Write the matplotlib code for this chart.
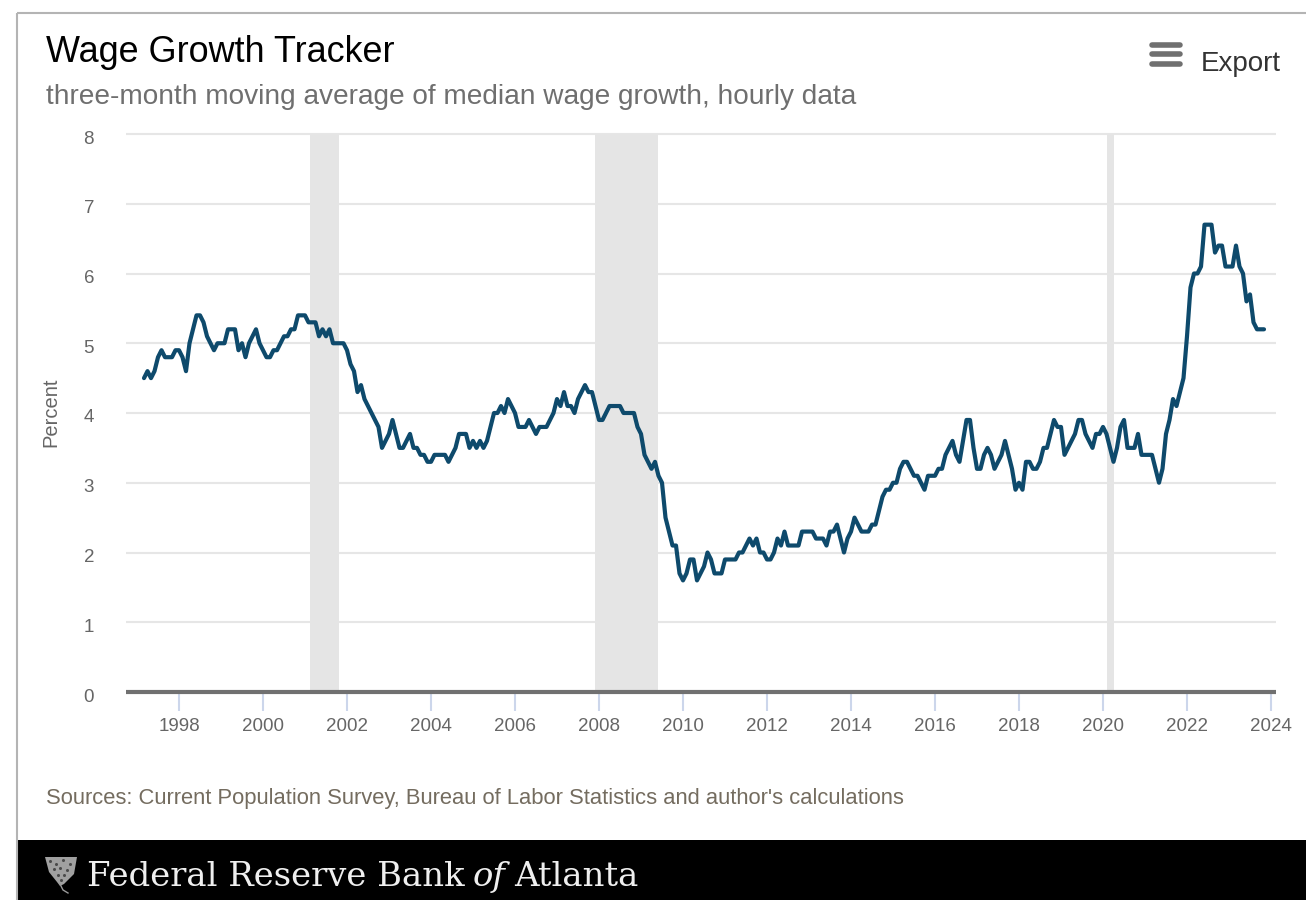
"""
Wage growth tracker line chart with recession bands and a page-style header and footer.
"""

import numpy as np
import matplotlib
matplotlib.use("Agg")
import matplotlib.pyplot as plt
from matplotlib.patches import Polygon, Rectangle
from matplotlib.transforms import ScaledTranslation

plt.rcParams["font.family"] = ["Liberation Sans", "DejaVu Sans"]

W, H = 1306, 900

# monthly, first value is March 1997
WAGE_GROWTH = [
    4.5, 4.6, 4.5, 4.6, 4.8, 4.9, 4.8, 4.8, 4.8, 4.9,
    4.9, 4.8, 4.6, 5.0, 5.2, 5.4, 5.4, 5.3, 5.1, 5.0, 4.9, 5.0,
    5.0, 5.0, 5.2, 5.2, 5.2, 4.9, 5.0, 4.8, 5.0, 5.1, 5.2, 5.0,
    4.9, 4.8, 4.8, 4.9, 4.9, 5.0, 5.1, 5.1, 5.2, 5.2, 5.4, 5.4,
    5.4, 5.3, 5.3, 5.3, 5.1, 5.2, 5.1, 5.2, 5.0, 5.0, 5.0, 5.0,
    4.9, 4.7, 4.6, 4.3, 4.4, 4.2, 4.1, 4.0, 3.9, 3.8, 3.5, 3.6,
    3.7, 3.9, 3.7, 3.5, 3.5, 3.6, 3.7, 3.5, 3.5, 3.4, 3.4, 3.3,
    3.3, 3.4, 3.4, 3.4, 3.4, 3.3, 3.4, 3.5, 3.7, 3.7, 3.7, 3.5,
    3.6, 3.5, 3.6, 3.5, 3.6, 3.8, 4.0, 4.0, 4.1, 4.0, 4.2, 4.1,
    4.0, 3.8, 3.8, 3.8, 3.9, 3.8, 3.7, 3.8, 3.8, 3.8, 3.9, 4.0,
    4.2, 4.1, 4.3, 4.1, 4.1, 4.0, 4.2, 4.3, 4.4, 4.3, 4.3, 4.1,
    3.9, 3.9, 4.0, 4.1, 4.1, 4.1, 4.1, 4.0, 4.0, 4.0, 4.0, 3.8,
    3.7, 3.4, 3.3, 3.2, 3.3, 3.1, 3.0, 2.5, 2.3, 2.1, 2.1, 1.7,
    1.6, 1.7, 1.9, 1.9, 1.6, 1.7, 1.8, 2.0, 1.9, 1.7, 1.7, 1.7,
    1.9, 1.9, 1.9, 1.9, 2.0, 2.0, 2.1, 2.2, 2.1, 2.2, 2.0, 2.0,
    1.9, 1.9, 2.0, 2.2, 2.1, 2.3, 2.1, 2.1, 2.1, 2.1, 2.3, 2.3,
    2.3, 2.3, 2.2, 2.2, 2.2, 2.1, 2.3, 2.3, 2.4, 2.2, 2.0, 2.2,
    2.3, 2.5, 2.4, 2.3, 2.3, 2.3, 2.4, 2.4, 2.6, 2.8, 2.9, 2.9,
    3.0, 3.0, 3.2, 3.3, 3.3, 3.2, 3.1, 3.1, 3.0, 2.9, 3.1, 3.1,
    3.1, 3.2, 3.2, 3.4, 3.5, 3.6, 3.4, 3.3, 3.6, 3.9, 3.9, 3.5,
    3.2, 3.2, 3.4, 3.5, 3.4, 3.2, 3.3, 3.4, 3.6, 3.4, 3.2, 2.9,
    3.0, 2.9, 3.3, 3.3, 3.2, 3.2, 3.3, 3.5, 3.5, 3.7, 3.9, 3.8,
    3.8, 3.4, 3.5, 3.6, 3.7, 3.9, 3.9, 3.7, 3.6, 3.5, 3.7, 3.7,
    3.8, 3.7, 3.5, 3.3, 3.5, 3.8, 3.9, 3.5, 3.5, 3.5, 3.7, 3.4,
    3.4, 3.4, 3.4, 3.2, 3.0, 3.2, 3.7, 3.9, 4.2, 4.1, 4.3, 4.5,
    5.1, 5.8, 6.0, 6.0, 6.1, 6.7, 6.7, 6.7, 6.3, 6.4, 6.4, 6.1,
    6.1, 6.1, 6.4, 6.1, 6.0, 5.6, 5.7, 5.3, 5.2, 5.2, 5.2,
]
RECESSIONS = [(2001.12, 2001.81), (2007.90, 2009.40), (2020.10, 2020.27)]
X_TICKS = list(range(1998, 2025, 2))
Y_TICKS = list(range(0, 9))

years = 1997 + (2 + np.arange(len(WAGE_GROWTH))) / 12

fig = plt.figure(figsize=(W / 100, H / 100), dpi=100, facecolor="white")

# page layer in pixel coordinates, y pointing down
page = fig.add_axes([0, 0, 1, 1], zorder=0)
page.set_xlim(0, W)
page.set_ylim(H, 0)
page.axis("off")

# chart area: x 126-1276, y 134-692 px
ax = fig.add_axes([126 / W, 1 - 692 / H, 1150 / W, 558 / H], zorder=1)
ax.patch.set_alpha(0)
ax.set_xlim(1998 - 53 / 42, 1998 + 1097 / 42)
ax.set_ylim(0, 8)

for start, end in RECESSIONS:
    ax.axvspan(start, end, color="#e5e5e5", lw=0, zorder=2)

ax.plot(years, WAGE_GROWTH, color="#0e4a6c", lw=3.0, zorder=3,
        solid_joinstyle="round", solid_capstyle="round")

ax.set_yticks(Y_TICKS)
ax.set_xticks(X_TICKS)
ax.grid(axis="y", color="#e6e6e6", lw=1.5, zorder=1, clip_on=False,
        solid_capstyle="butt")
ax.set_axisbelow(True)
for side in ["top", "right", "left"]:
    ax.spines[side].set_visible(False)
ax.spines["bottom"].set_color("#707070")
ax.spines["bottom"].set_linewidth(3)
ax.spines["bottom"].set_capstyle("butt")
ax.spines["bottom"].set_zorder(4)

ax.tick_params(axis="x", length=14, width=1.5, color="#ccd6eb", pad=4.5,
               labelsize=13.5, labelcolor="#666666")
ax.tick_params(axis="y", length=0, pad=23, labelsize=13.5, labelcolor="#666666")

# y labels sit a little below their gridlines
shift = ScaledTranslation(0, -3 / 100, fig.dpi_scale_trans)
for label in ax.get_yticklabels():
    label.set_transform(label.get_transform() + shift)

ax.set_ylabel("Percent", fontsize=14.5, color="#666666")
ax.yaxis.set_label_coords((60 - 126) / 1150, (692 - 412) / 558)

# header
page.plot([17, W], [13, 13], color="#b4b4b4", lw=1.5, solid_capstyle="butt")
page.plot([17, 17], [13, H], color="#b4b4b4", lw=1.5, solid_capstyle="butt")
page.text(46, 53, "Wage Growth Tracker", fontsize=25.9, color="black", va="center")
page.text(46, 97.5, "three-month moving average of median wage growth, hourly data",
          fontsize=20.2, color="#6f6f6f", va="center")

# export button
for y in [45, 54, 64]:
    page.plot([1152, 1180], [y, y], color="#707070", lw=4, solid_capstyle="round")
page.text(1201, 64, "Export", fontsize=20, color="#333333", va="center")

page.text(46, 798.5, "Sources: Current Population Survey, Bureau of Labor Statistics "
          "and author's calculations", fontsize=15.85, color="#746c5f", va="center")

# footer banner with a small shield mark
page.add_patch(Rectangle((18, 840), W - 18, 60, color="black", lw=0))
page.add_patch(Polygon([(45, 857), (77, 857), (74, 874), (64, 884), (60, 886),
                        (57, 882), (49, 872)], closed=True, color="#a0a0a0", lw=0))
page.plot([60, 63, 68], [884, 890, 893], color="#9a9a9a", lw=1)
page.plot([50, 56, 63, 70, 54, 60, 67, 58, 64, 61],
          [861, 864, 860, 864, 869, 868, 870, 875, 875, 880],
          ls="none", marker="o", ms=2.2, mec="none", color="#4a4a4a")

banner = dict(fontsize=24.4, color="#efefef", va="baseline", family="DejaVu Serif")
page.text(87, 886, "Federal Reserve Bank", **banner)
page.text(473, 886, "of", style="italic", **banner)
page.text(514, 886, "Atlanta", **banner)

fig.savefig("out.png", dpi=100, facecolor="white")
